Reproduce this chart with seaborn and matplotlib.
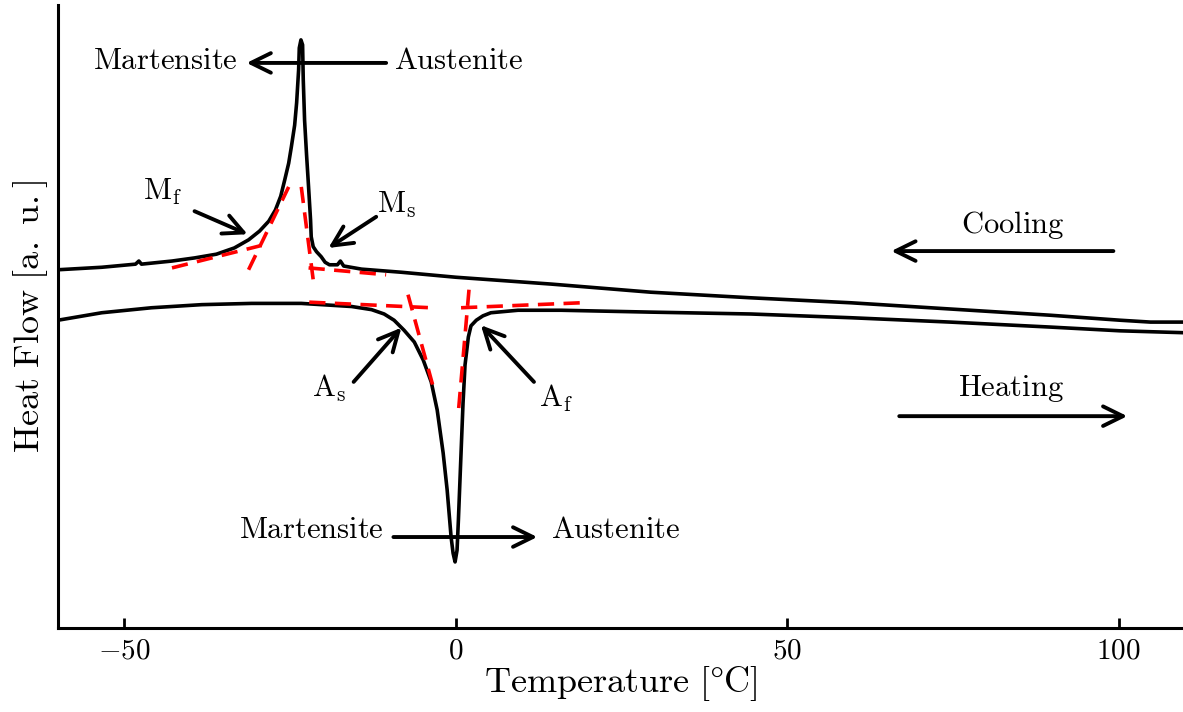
import numpy as np
import pandas as pd
import matplotlib
matplotlib.use("Agg")
import matplotlib.pyplot as plt
import seaborn as sns

sns.set_style("ticks")
plt.rcParams.update({
    "font.family": "serif",
    "font.serif": ["cmr10", "DejaVu Serif"],
    "mathtext.fontset": "cm",
    "axes.formatter.use_mathtext": True,
    "axes.unicode_minus": True,
    "text.color": "black",
    "axes.labelcolor": "black",
    "axes.edgecolor": "black",
    "xtick.color": "black",
})

# DSC trace on cooling (exothermic martensite peak)
cool_T = [-60, -53.4, -48.3, -47.8, -47.4, -42.8, -39.4, -36.1, -33.4, -31.25,
          -29.6, -28.2, -27.2, -26.4, -25.8, -25.2, -24.8, -24.3, -24.0, -23.7,
          -23.6, -23.35, -23.1, -23.0, -22.8, -22.5, -22.2, -21.9, -21.8, -21.5,
          -21.0, -20.3, -19.7, -19.05, -17.85, -17.4, -16.9, -14.2, -8.2, 0.0,
          14.4, 29.4, 44.5, 59.6, 74.6, 89.7, 100.2, 104.8, 109.7]
cool_H = [57.5, 57.9, 58.4, 58.9, 58.4, 58.9, 59.4, 60.0, 61.0, 62.3,
          63.7, 65.3, 67.1, 69.3, 71.9, 74.6, 77.2, 80.7, 84.3, 89.6,
          93.1, 94.4, 93.6, 88.0, 81.5, 75.9, 70.8, 65.5, 62.8, 61.2,
          60.4, 59.6, 58.7, 58.3, 58.3, 58.9, 58.1, 57.6, 57.1, 56.3,
          55.2, 53.9, 53.0, 52.2, 51.2, 50.2, 49.4, 49.1, 49.1]

# DSC trace on heating (endothermic austenite dip)
heat_T = [-60, -53.4, -45.9, -38.3, -30.8, -23.3, -15.7, -12.7, -10.8, -9.3,
          -7.8, -6.25, -4.9, -3.7, -2.8, -1.9, -1.3, -0.7, -0.4, -0.1,
          0.2, 0.4, 0.7, 1.1, 1.4, 1.9, 2.3, 3.1, 4.1, 5.3,
          9.4, 15.9, 29.4, 44.5, 59.6, 74.6, 89.7, 100.2, 109.7]
heat_H = [49.4, 50.6, 51.4, 51.9, 52.1, 52.1, 51.6, 51.1, 50.4, 49.4,
          47.8, 45.9, 43.0, 39.5, 35.0, 28.1, 22.2, 14.6, 12.0, 10.6,
          12.5, 17.3, 25.4, 36.1, 42.2, 46.7, 48.5, 49.4, 50.1, 50.6,
          51.0, 51.0, 50.7, 50.4, 49.8, 49.1, 48.3, 47.7, 47.4]

# Tangent constructions for the transformation temperatures
tangent_T = [(-42.8, -29.3), (-31.25, -25.2), (-23.3, -21.5), (-22.2, -10.5),
             (-22.1, -3.7), (-7.2, -3.4), (2.0, 0.4), (0.8, 18.9)]
tangent_H = [(57.8, 61.4), (57.5, 70.8), (70.8, 55.9), (57.8, 56.7),
             (52.3, 51.4), (53.5, 38.7), (54.3, 34.7), (51.4, 52.2)]

xticks = [-50, 0, 50, 100]

fig = plt.figure(figsize=(11.83, 7.12), dpi=100)
ax = fig.add_axes([0.049, 0.118, 0.951, 0.875])

df_c = pd.DataFrame({"T": cool_T, "H": cool_H})
df_h = pd.DataFrame({"T": heat_T, "H": heat_H})
sns.lineplot(data=df_c, x="T", y="H", sort=False, estimator=None, color="black",
             lw=2.6, ax=ax, zorder=3)
sns.lineplot(data=df_h, x="T", y="H", sort=False, estimator=None, color="black",
             lw=2.6, ax=ax, zorder=3)

for tt, hh in zip(tangent_T, tangent_H):
    ax.plot(tt, hh, color="red", lw=2.6, dashes=(4.5, 2.6), zorder=4)

ax.set_xlim(-60, 109.7)
ax.set_ylim(0, 100)
ax.set_xticks(xticks)
ax.set_yticks([])
ax.tick_params(axis="x", direction="in", length=7, width=2, labelsize=21, pad=7)
for s in ["top", "right"]:
    ax.spines[s].set_visible(False)
for s in ["left", "bottom"]:
    ax.spines[s].set_linewidth(2.2)

ax.set_xlabel(r"$\mathrm{Temperature\ [\degree C]}$", fontsize=26, labelpad=0)
ax.set_ylabel(r"$\mathrm{Heat\ Flow\ [a.\ u.]}$", fontsize=26, labelpad=6)

fs = 22
arrow = dict(arrowstyle="->,head_length=0.65,head_width=0.32", lw=2.8, color="black",
             shrinkA=0, shrinkB=0, mutation_scale=22)

def arr(tail, head):
    ax.annotate("", xy=head, xytext=tail, arrowprops=arrow, zorder=5)

# cooling transformation
arr((-10.5, 90.7), (-31.55, 90.7))
ax.text(-32.9, 90.9, r"$\mathrm{Martensite}$", fontsize=fs, ha="right", va="center")
ax.text(-9.3, 90.9, r"$\mathrm{Austenite}$", fontsize=fs, ha="left", va="center")
# heating transformation
arr((-9.4, 14.6), (12.3, 14.6))
ax.text(-10.8, 15.7, r"$\mathrm{Martensite}$", fontsize=fs, ha="right", va="center")
ax.text(14.4, 15.7, r"$\mathrm{Austenite}$", fontsize=fs, ha="left", va="center")

# characteristic temperatures
arr((-39.4, 66.9), (-31.4, 63.2))
ax.text(-44.2, 70.0, r"$\mathrm{M_f}$", fontsize=fs, ha="center", va="center")
arr((-12.0, 66.0), (-19.2, 61.0))
ax.text(-9.0, 67.9, r"$\mathrm{M_s}$", fontsize=fs, ha="center", va="center")
arr((-15.4, 39.5), (-8.2, 48.2))
ax.text(-19.1, 38.5, r"$\mathrm{A_s}$", fontsize=fs, ha="center", va="center")
arr((11.8, 39.5), (3.8, 48.6))
ax.text(15.1, 36.9, r"$\mathrm{A_f}$", fontsize=fs, ha="center", va="center")

# scan direction
arr((99.2, 60.5), (65.7, 60.5))
ax.text(84.0, 64.7, r"$\mathrm{Cooling}$", fontsize=fs, ha="center", va="center")
arr((66.9, 34.0), (101.3, 34.0))
ax.text(83.7, 38.5, r"$\mathrm{Heating}$", fontsize=fs, ha="center", va="center")

fig.savefig("out.png", dpi=100)
